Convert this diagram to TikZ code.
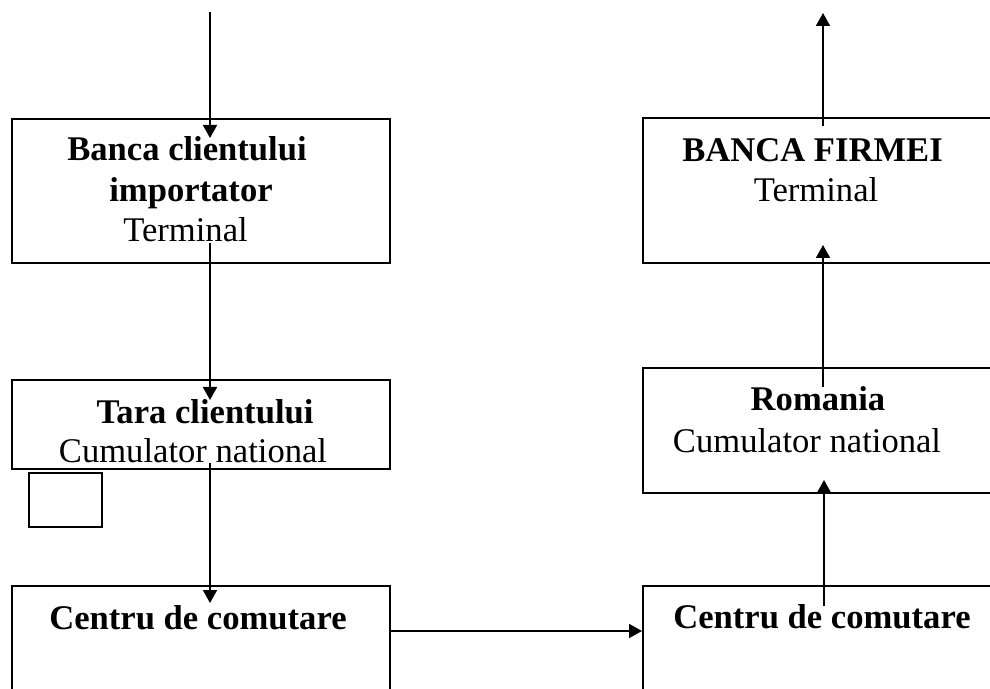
\documentclass[tikz,border=0pt]{standalone}
\usepackage{fontspec}
\setmainfont{Liberation Serif}
\usetikzlibrary{arrows.meta}
\tikzset{>={Triangle[length=6.5pt,width=7pt]}}

\begin{document}
\begin{tikzpicture}[x=0.5pt, y=-0.5pt, line width=0.9pt,
box/.style={rectangle, draw=black, inner sep=0pt, outer sep=0pt},
title/.style={anchor=base, inner sep=0pt, font=\fontsize{17.3}{20}\selectfont\bfseries},
sub/.style={anchor=base, inner sep=0pt, font=\fontsize{17.3}{20}\selectfont}]
\clip (0,0) rectangle (990,689);
%left column
\node[box, minimum width=189pt, minimum height=72pt] (bclient) at (201,191) {};
\node[title] (bclient1) at (187,161) {Banca clientului};
\node[title] (bclient2) at (191,202) {importator};
\node[sub] (bclient3) at (185.5,242) {Terminal};
\node[box, minimum width=189pt, minimum height=44.5pt] (tara) at (201,424.5) {};
\node[title] (tara1) at (205,423) {Tara clientului};
\node[sub] (tara2) at (193,462) {Cumulator national};
\node[box, minimum width=36.5pt, minimum height=27pt] (mic) at (65.5,500) {};
\node[box, minimum width=189pt, minimum height=57pt] (cleft) at (201,643) {};
\node[title] (cleft1) at (198,629) {Centru de comutare};
%right column
\node[box, minimum width=178.5pt, minimum height=72.5pt] (firma) at (821.5,190.5) {};
\node[title] (firma1) at (812.5,162) {BANCA FIRMEI};
\node[sub] (firma2) at (816,202) {Terminal};
\node[box, minimum width=178.5pt, minimum height=62.5pt] (rom) at (821.5,430.5) {};
\node[title] (rom1) at (818,410) {Romania};
\node[sub] (rom2) at (807,452) {Cumulator national};
\node[box, minimum width=178.5pt, minimum height=57pt] (cright) at (821.5,643) {};
\node[title] (cright1) at (822,628) {Centru de comutare};
%arrow ends
\coordinate (in0) at (210,12);
\coordinate (in1) at (210,138);
\coordinate (out1) at (210,243);
\coordinate (in2) at (210,400);
\coordinate (out2) at (210,463);
\coordinate (in3) at (210,603);
\coordinate (out3) at (390,631);
\coordinate (in4) at (642,631);
\coordinate (out4) at (824,606);
\coordinate (in5) at (824,480);
\coordinate (out5) at (823,387);
\coordinate (in6) at (823,245);
\coordinate (out6) at (823,126);
\coordinate (in7) at (823,13);
\draw[->] (in0) -- (in1);
\draw[->] (out1) -- (in2);
\draw[->] (out2) -- (in3);
\draw[->] (out3) -- (in4);
\draw[->] (out4) -- (in5);
\draw[->] (out5) -- (in6);
\draw[->] (out6) -- (in7);
%\draw[->] (cleft.east) -- (cright.west);
\end{tikzpicture}
\end{document}
